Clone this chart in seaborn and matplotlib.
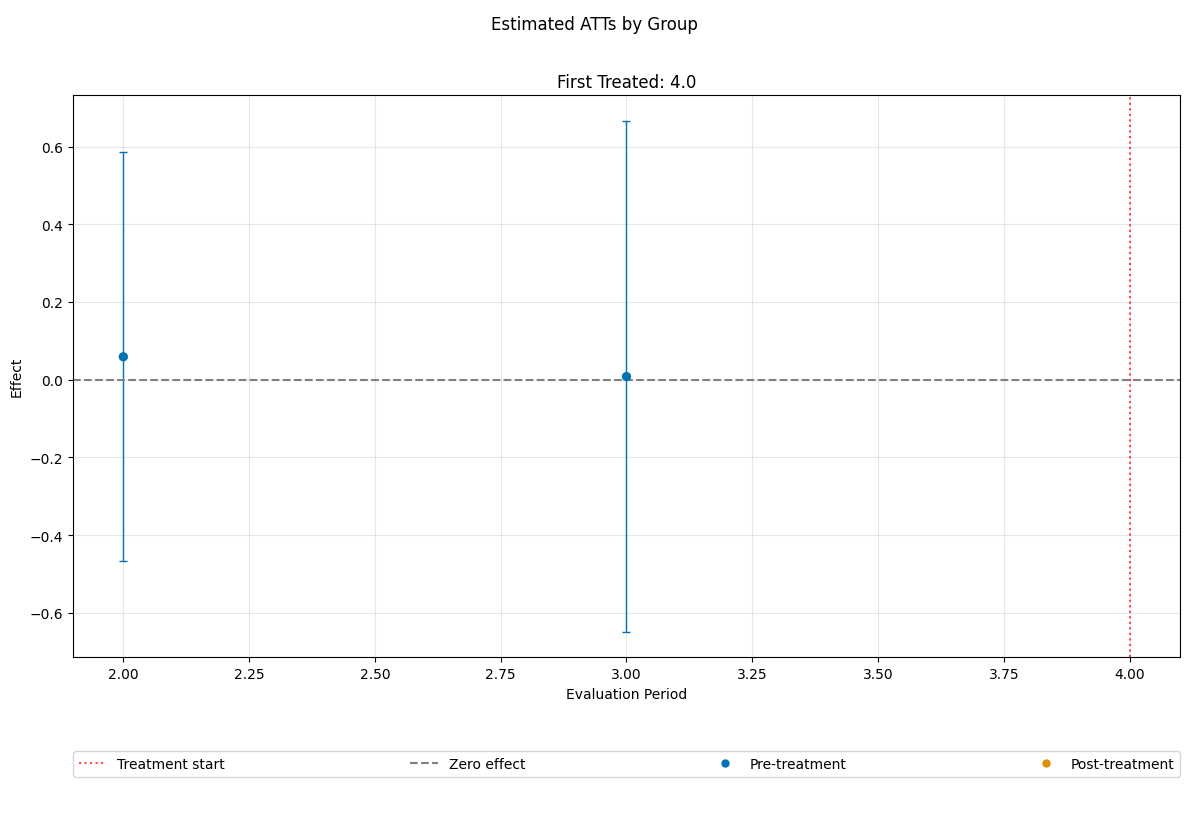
import numpy as np
import pandas as pd
import seaborn as sns
import matplotlib
matplotlib.use("Agg")
import matplotlib.pyplot as plt
from matplotlib.lines import Line2D

# values
periods = [2.0, 3.0]
att = [0.059, 0.008]
ci_low = [-0.466, -0.649]
ci_high = [0.585, 0.667]
phase = ["Pre-treatment", "Pre-treatment"]
first_treated = 4.0

pal = sns.color_palette("colorblind")
colors = {"Pre-treatment": pal[0], "Post-treatment": pal[1]}

df = pd.DataFrame({"period": periods, "att": att, "lo": ci_low, "hi": ci_high, "phase": phase})

fig, ax = plt.subplots(figsize=(11.89, 8.2), dpi=100)

for ph, sub in df.groupby("phase"):
    yerr = np.vstack([sub["att"] - sub["lo"], sub["hi"] - sub["att"]])
    ax.errorbar(sub["period"], sub["att"], yerr=yerr, fmt="none",
                ecolor=colors[ph], elinewidth=1, capsize=3, zorder=2)

sns.scatterplot(data=df, x="period", y="att", hue="phase", palette=colors,
                s=45, edgecolor=None, linewidth=0, ax=ax, legend=False, zorder=3)

ax.axvline(first_treated, color="red", linestyle=":", alpha=0.7, linewidth=1.5)
ax.axhline(0, color="gray", linestyle="--", linewidth=1.5)

ax.grid(True, alpha=0.3)
ax.set_axisbelow(True)
ax.set_title(f"First Treated: {first_treated}", fontsize=12)
ax.set_xlabel("Evaluation Period")
ax.set_ylabel("Effect")
ax.xaxis.set_major_formatter(matplotlib.ticker.FormatStrFormatter("%.2f"))

handles = [
    Line2D([0], [0], color="red", linestyle=":", alpha=0.7, linewidth=1.5, label="Treatment start"),
    Line2D([0], [0], color="gray", linestyle="--", linewidth=1.5, label="Zero effect"),
    Line2D([0], [0], marker="o", linestyle="none", color=colors["Pre-treatment"], markersize=5, label="Pre-treatment"),
    Line2D([0], [0], marker="o", linestyle="none", color=colors["Post-treatment"], markersize=5, label="Post-treatment"),
]
ax.legend(handles=handles, loc="upper left", bbox_to_anchor=(0, -0.167, 1, 0),
          mode="expand", ncol=4, fontsize=10, borderaxespad=0)

fig.suptitle("Estimated ATTs by Group", fontsize=12)
plt.subplots_adjust(left=0.0614, right=0.9924, top=0.883, bottom=0.1970)
fig.savefig("out.png", dpi=100)
